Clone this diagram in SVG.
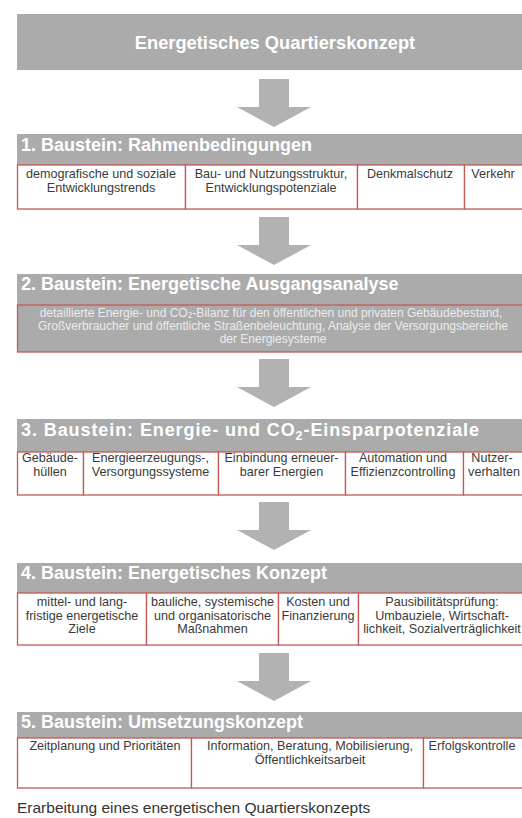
<svg xmlns="http://www.w3.org/2000/svg" width="522" height="818" viewBox="0 0 522 818">
<style>
.bg{fill:#ffffff}
.bar{fill:#ababab}
.cell{fill:#ffffff;stroke:#c45a54;stroke-width:1.3}
.cellg{fill:#ababab;stroke:#c45a54;stroke-width:1.3}
.head{font-family:"Liberation Sans",Arial,sans-serif;font-weight:bold;font-size:18.3px;fill:#ffffff;text-anchor:middle}
.title{font-family:"Liberation Sans",Arial,sans-serif;font-weight:bold;font-size:18px;fill:#ffffff}
.t{font-family:"Liberation Sans",Arial,sans-serif;font-size:12.6px;fill:#3a3a3a;text-anchor:middle}
.tl{font-family:"Liberation Sans",Arial,sans-serif;font-size:12px;fill:#ececec;text-anchor:middle}
.cap{font-family:"Liberation Sans",Arial,sans-serif;font-size:15.5px;fill:#333333}
.arrow{fill:#b2b2b2}
.sub{font-size:70%}
</style>
<defs>
<path id="arr" d="M259,0 H289 V28 H311 L274,48 L237,28 H259 Z"/>
</defs>
<rect class="bg" x="0" y="0" width="522" height="818"/>

<g id="connectors">
<use href="#arr" class="arrow" transform="translate(0,79)"/>
<use href="#arr" class="arrow" transform="translate(0,217)"/>
<use href="#arr" class="arrow" transform="translate(0,359)"/>
<use href="#arr" class="arrow" transform="translate(0,502)"/>
<use href="#arr" class="arrow" transform="translate(0,653)"/>
</g>

<g id="header">
<rect class="bar" x="17" y="14" width="516" height="56"/>
<text class="head" x="275" y="49">Energetisches Quartierskonzept</text>
</g>

<g id="baustein1">
<rect class="bar" x="17" y="134" width="516" height="31"/>
<text class="title" x="21" y="151">1. Baustein: Rahmenbedingungen</text>
<rect class="cell" x="17.5" y="165" width="168" height="44"/>
<rect class="cell" x="185.5" y="165" width="172" height="44"/>
<rect class="cell" x="357.5" y="165" width="107" height="44"/>
<rect class="cell" x="464.5" y="165" width="70" height="44"/>
<text class="t" x="101" y="178">demografische und soziale</text>
<text class="t" x="101" y="191.5">Entwicklungstrends</text>
<text class="t" x="271" y="178">Bau- und Nutzungsstruktur,</text>
<text class="t" x="271" y="191.5">Entwicklungspotenziale</text>
<text class="t" x="410" y="178">Denkmalschutz</text>
<text class="t" x="493" y="178">Verkehr</text>
</g>

<g id="baustein2">
<rect class="bar" x="17" y="274" width="516" height="31"/>
<text class="title" x="21" y="290">2. Baustein: Energetische Ausgangsanalyse</text>
<rect class="cellg" x="17.5" y="305" width="520" height="47"/>
<text class="tl" x="271" y="316.5">detaillierte Energie- und CO<tspan class="sub" dy="1.8">2</tspan><tspan dy="-1.8">-Bilanz für den öffentlichen und privaten Gebäudebestand,</tspan></text>
<text class="tl" x="273" y="330">Großverbraucher und öffentliche Straßenbeleuchtung, Analyse der Versorgungsbereiche</text>
<text class="tl" x="273" y="343">der Energiesysteme</text>
</g>

<g id="baustein3">
<rect class="bar" x="17" y="419" width="516" height="33"/>
<text class="title" x="21" y="436" textLength="458" lengthAdjust="spacing">3. Baustein: Energie- und CO<tspan class="sub" dy="4">2</tspan><tspan dy="-4">-Einsparpotenziale</tspan></text>
<rect class="cell" x="17.5" y="452" width="66" height="43"/>
<rect class="cell" x="83.5" y="452" width="135" height="43"/>
<rect class="cell" x="218.5" y="452" width="127" height="43"/>
<rect class="cell" x="345.5" y="452" width="118" height="43"/>
<rect class="cell" x="463.5" y="452" width="70" height="43"/>
<text class="t" x="50" y="462">Gebäude-</text>
<text class="t" x="50" y="475.5">hüllen</text>
<text class="t" x="150.5" y="462">Energieerzeugungs-,</text>
<text class="t" x="150.5" y="475.5">Versorgungssysteme</text>
<text class="t" x="281.5" y="462">Einbindung erneuer-</text>
<text class="t" x="281.5" y="475.5">barer Energien</text>
<text class="t" x="403" y="462">Automation und</text>
<text class="t" x="403" y="475.5">Effizienzcontrolling</text>
<text class="t" x="492" y="462">Nutzer-</text>
<text class="t" x="494" y="475.5">verhalten</text>
</g>

<g id="baustein4">
<rect class="bar" x="17" y="563" width="516" height="30"/>
<text class="title" x="21" y="579">4. Baustein: Energetisches Konzept</text>
<rect class="cell" x="17.5" y="593" width="129" height="52"/>
<rect class="cell" x="146.5" y="593" width="132" height="52"/>
<rect class="cell" x="278.5" y="593" width="80" height="52"/>
<rect class="cell" x="358.5" y="593" width="176" height="52"/>
<text class="t" x="82" y="606">mittel- und lang-</text>
<text class="t" x="82" y="619.5">fristige energetische</text>
<text class="t" x="82" y="633">Ziele</text>
<text class="t" x="212.5" y="606">bauliche, systemische</text>
<text class="t" x="212.5" y="619.5">und organisatorische</text>
<text class="t" x="212.5" y="633">Maßnahmen</text>
<text class="t" x="318" y="606">Kosten und</text>
<text class="t" x="318" y="619.5">Finanzierung</text>
<text class="t" x="442" y="606">Pausibilitätsprüfung:</text>
<text class="t" x="442" y="619.5">Umbauziele, Wirtschaft-</text>
<text class="t" x="442" y="633">lichkeit, Sozialverträglichkeit</text>
</g>

<g id="baustein5">
<rect class="bar" x="17" y="712" width="516" height="26"/>
<text class="title" x="21" y="728">5. Baustein: Umsetzungskonzept</text>
<rect class="cell" x="17.5" y="738" width="174" height="50"/>
<rect class="cell" x="191.5" y="738" width="232" height="50"/>
<rect class="cell" x="423.5" y="738" width="111" height="50"/>
<text class="t" x="105" y="750">Zeitplanung und Prioritäten</text>
<text class="t" x="310" y="750">Information, Beratung, Mobilisierung,</text>
<text class="t" x="310" y="763.5">Öffentlichkeitsarbeit</text>
<text class="t" x="472" y="750">Erfolgskontrolle</text>
</g>

<g id="caption">
<text class="cap" x="17" y="813">Erarbeitung eines energetischen Quartierskonzepts</text>
</g>
</svg>
